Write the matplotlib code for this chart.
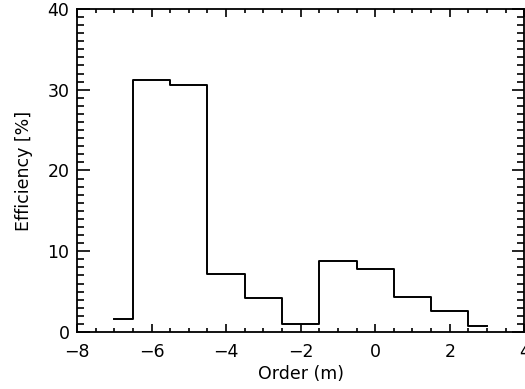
import matplotlib
matplotlib.use('Agg')
import matplotlib.pyplot as plt
from matplotlib.ticker import MultipleLocator

# diffraction order and efficiency (%)
orders = [-7, -6, -5, -4, -3, -2, -1, 0, 1, 2, 3]
efficiency = [1.6, 31.2, 30.6, 7.2, 4.2, 1.0, 8.8, 7.8, 4.3, 2.6, 0.7]

plt.rcParams['font.family'] = 'DejaVu Sans'
FS = 12.5

fig = plt.figure(figsize=(5.25, 3.89), dpi=100)
ax = fig.add_axes([0.1467, 0.1465, 0.852, 0.8305])

# IDL psym=10 style histogram
ax.step(orders, efficiency, where='mid', color='black', linewidth=1.4)

ax.set_xlim(-8, 4)
ax.set_ylim(0, 40)
ax.xaxis.set_major_locator(MultipleLocator(2))
ax.xaxis.set_minor_locator(MultipleLocator(0.5))
ax.yaxis.set_major_locator(MultipleLocator(10))
ax.yaxis.set_minor_locator(MultipleLocator(1))
ax.tick_params(which='both', direction='in', top=True, right=True,
               width=1.2, labelsize=FS, colors='black')
ax.tick_params(axis='x', which='major', length=6, pad=8)
ax.tick_params(axis='x', which='minor', length=3)
ax.tick_params(axis='y', which='major', length=9, pad=5.5)
ax.tick_params(axis='y', which='minor', length=5)
for spine in ax.spines.values():
    spine.set_linewidth(1.3)

ax.set_xlabel('Order (m)', fontsize=FS, labelpad=3)
ax.set_ylabel('Efficiency [%]', fontsize=FS, labelpad=10)

fig.savefig('out.png', dpi=100)
